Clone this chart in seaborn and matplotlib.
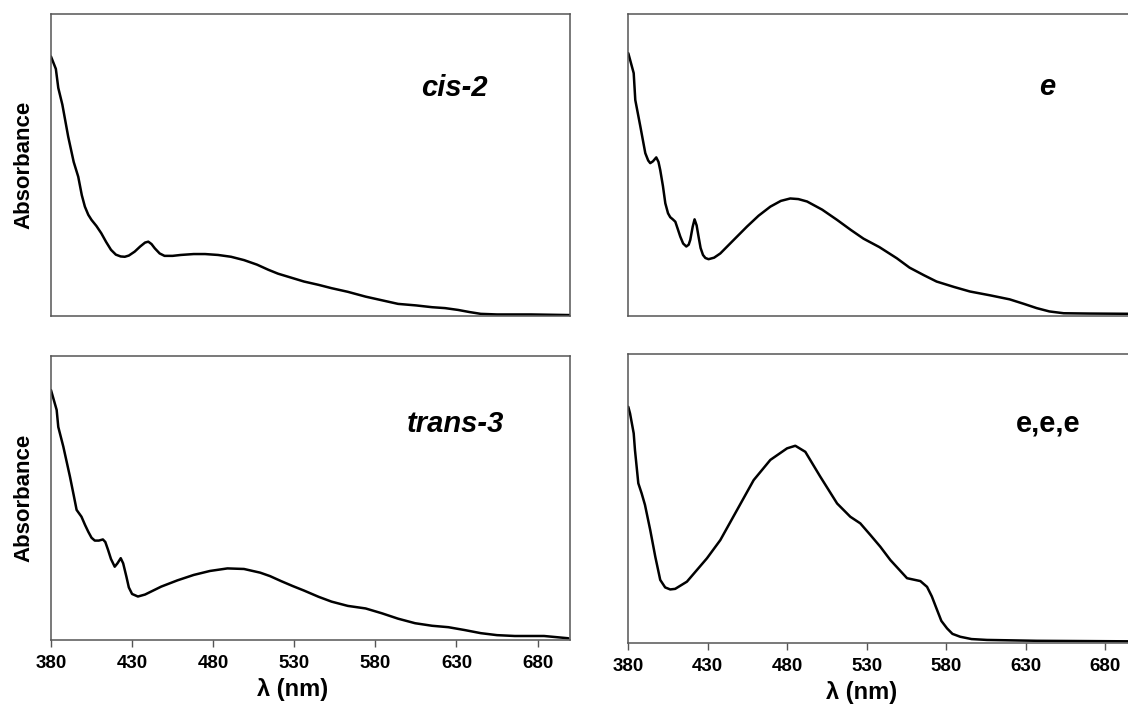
import matplotlib
matplotlib.use("Agg")
import matplotlib.pyplot as plt
import seaborn as sns

# UV-vis spectra, absorbance in arbitrary units
cis2_wl = [380, 383, 384.5, 387, 390.6, 394, 396.8, 399, 400.9, 403, 405, 408, 411, 414, 417, 420,
           423, 425.5, 428, 431.6, 435, 438, 440, 442, 444, 447, 450, 455, 460, 468, 475, 483, 491,
           499, 507, 514, 520, 528, 536, 545, 553, 563, 574, 584, 594, 605, 615, 623, 631, 638,
           645, 655, 676, 700]
cis2_abs = [0.859, 0.818, 0.755, 0.700, 0.594, 0.510, 0.461, 0.400, 0.362, 0.335, 0.318, 0.298,
            0.274, 0.245, 0.219, 0.203, 0.197, 0.196, 0.200, 0.213, 0.230, 0.243, 0.246, 0.238,
            0.224, 0.207, 0.199, 0.199, 0.202, 0.205, 0.205, 0.202, 0.196, 0.185, 0.170, 0.153,
            0.140, 0.127, 0.114, 0.103, 0.092, 0.080, 0.064, 0.052, 0.040, 0.035, 0.029, 0.026,
            0.020, 0.013, 0.007, 0.005, 0.005, 0.003]

e_wl = [380, 383.4, 384.4, 387.6, 390.7, 392.5, 393.8, 395.5, 397.6, 399, 400.1, 401.8, 403.3,
        405, 406.4, 408, 409.6, 411, 412.7, 414.5, 416.5, 418, 419, 420.5, 421.7, 423, 424.2,
        425.5, 427, 428.5, 430.5, 434, 437.9, 446, 454.7, 462, 469.4, 476, 481.9, 487, 492.5,
        502, 511.4, 520, 528, 538, 549, 557, 566, 574, 585, 595, 608, 620, 629, 637, 645, 654,
        670, 700]
e_abs = [0.870, 0.804, 0.715, 0.627, 0.539, 0.515, 0.506, 0.512, 0.525, 0.510, 0.483, 0.430,
         0.373, 0.340, 0.327, 0.320, 0.312, 0.290, 0.263, 0.240, 0.230, 0.236, 0.252, 0.295,
         0.320, 0.300, 0.263, 0.225, 0.202, 0.192, 0.188, 0.193, 0.207, 0.250, 0.296, 0.332,
         0.362, 0.381, 0.389, 0.387, 0.379, 0.352, 0.318, 0.285, 0.256, 0.228, 0.191, 0.160,
         0.135, 0.114, 0.096, 0.081, 0.068, 0.055, 0.040, 0.026, 0.015, 0.009, 0.008, 0.007]

trans3_wl = [380, 383.5, 384.5, 387.6, 391.7, 394, 395.8, 398.8, 401, 403, 405, 407, 409.5, 412,
             413.5, 415.2, 417, 419.3, 421, 423, 424.5, 426.5, 428, 430, 433.6, 438, 448, 458,
             468, 478, 488.8, 499, 509, 515, 522, 529, 536, 545, 553, 563, 574, 584, 594, 604.5,
             615, 625, 635, 645, 655, 666, 684, 699]
trans3_abs = [0.880, 0.810, 0.750, 0.681, 0.575, 0.510, 0.458, 0.434, 0.405, 0.381, 0.360,
              0.350, 0.350, 0.354, 0.345, 0.317, 0.285, 0.258, 0.270, 0.288, 0.270, 0.223,
              0.185, 0.162, 0.153, 0.160, 0.188, 0.210, 0.229, 0.243, 0.252, 0.250, 0.237,
              0.225, 0.207, 0.190, 0.174, 0.152, 0.135, 0.120, 0.111, 0.094, 0.075, 0.059,
              0.050, 0.045, 0.035, 0.024, 0.017, 0.014, 0.014, 0.006]

eee_wl = [380, 381.1, 383.4, 384.2, 386.3, 388.4, 390.5, 393.8, 397, 400.1, 403.2, 406.4, 409.5,
          416.9, 429.5, 437.9, 448.4, 458.9, 469.4, 479.9, 485.1, 491.4, 500.8, 511.4, 519.7,
          526, 532.3, 538.6, 544.9, 555.4, 563.8, 568, 571, 574.3, 577, 580.6, 584, 588.9, 596,
          605.7, 637.2, 670, 700]
eee_abs = [0.817, 0.794, 0.725, 0.667, 0.552, 0.517, 0.477, 0.390, 0.297, 0.217, 0.191, 0.184,
           0.186, 0.211, 0.292, 0.355, 0.459, 0.563, 0.633, 0.673, 0.682, 0.661, 0.575, 0.482,
           0.436, 0.413, 0.373, 0.332, 0.286, 0.223, 0.213, 0.193, 0.160, 0.113, 0.075, 0.049,
           0.030, 0.020, 0.012, 0.009, 0.006, 0.005, 0.004]

xticks = [380, 430, 480, 530, 580, 630, 680]

sns.set_style("white")
plt.rcParams['font.family'] = ['Liberation Sans', 'DejaVu Sans']
plt.rcParams['text.color'] = 'black'
plt.rcParams['axes.labelcolor'] = 'black'
plt.rcParams['xtick.color'] = 'black'

fig = plt.figure(figsize=(11.28, 7.11), dpi=100)

# panel: (wl, abs, label, italic, axes rect, label pos, bottom row)
panels = [
    (cis2_wl, cis2_abs, "cis-2", True, [0.0452, 0.5556, 0.4601, 0.4248], (0.778, 0.728), False),
    (e_wl, e_abs, "e", True, [0.5570, 0.5556, 0.4508, 0.4248], (0.824, 0.732), False),
    (trans3_wl, trans3_abs, "trans-3", True, [0.0452, 0.0999, 0.4601, 0.3994], (0.779, 0.733), True),
    (eee_wl, eee_abs, "e,e,e", False, [0.5570, 0.0963, 0.4508, 0.4058], (0.825, 0.733), True),
]

for i, (wl, ab, name, italic, rect, pos, bottom) in enumerate(panels):
    ax = fig.add_axes(rect)
    sns.lineplot(x=wl, y=ab, ax=ax, color="black", linewidth=1.8, estimator=None)
    ax.set_xlim(380, 700)
    ax.set_ylim(0, 1)
    ax.set_yticks([])
    for sp in ax.spines.values():
        sp.set_color("#555555")
        sp.set_linewidth(1.1)
    if bottom:
        ax.set_xticks(xticks)
        ax.set_xticklabels([str(t) for t in xticks], fontsize=13.5, fontweight="bold")
        ax.tick_params(axis="x", direction="out", length=5, width=1, color="#555555",
                       labelcolor="black", pad=6, bottom=True)
        ax.set_xlabel("λ (nm)", fontsize=17, fontweight="bold")
        ax.xaxis.set_label_coords(0.466 if i == 2 else 0.458, -0.135)
    else:
        ax.set_xticks([])
        ax.set_xlabel("")
    if i % 2 == 0:
        ax.set_ylabel("Absorbance", fontsize=16, fontweight="bold", labelpad=12)
    else:
        ax.set_ylabel("")
    ax.text(pos[0], pos[1], name, transform=ax.transAxes, ha="center", va="baseline",
            fontsize=21, fontweight="bold", fontstyle="italic" if italic else "normal")

fig.savefig("out.png", dpi=100)
